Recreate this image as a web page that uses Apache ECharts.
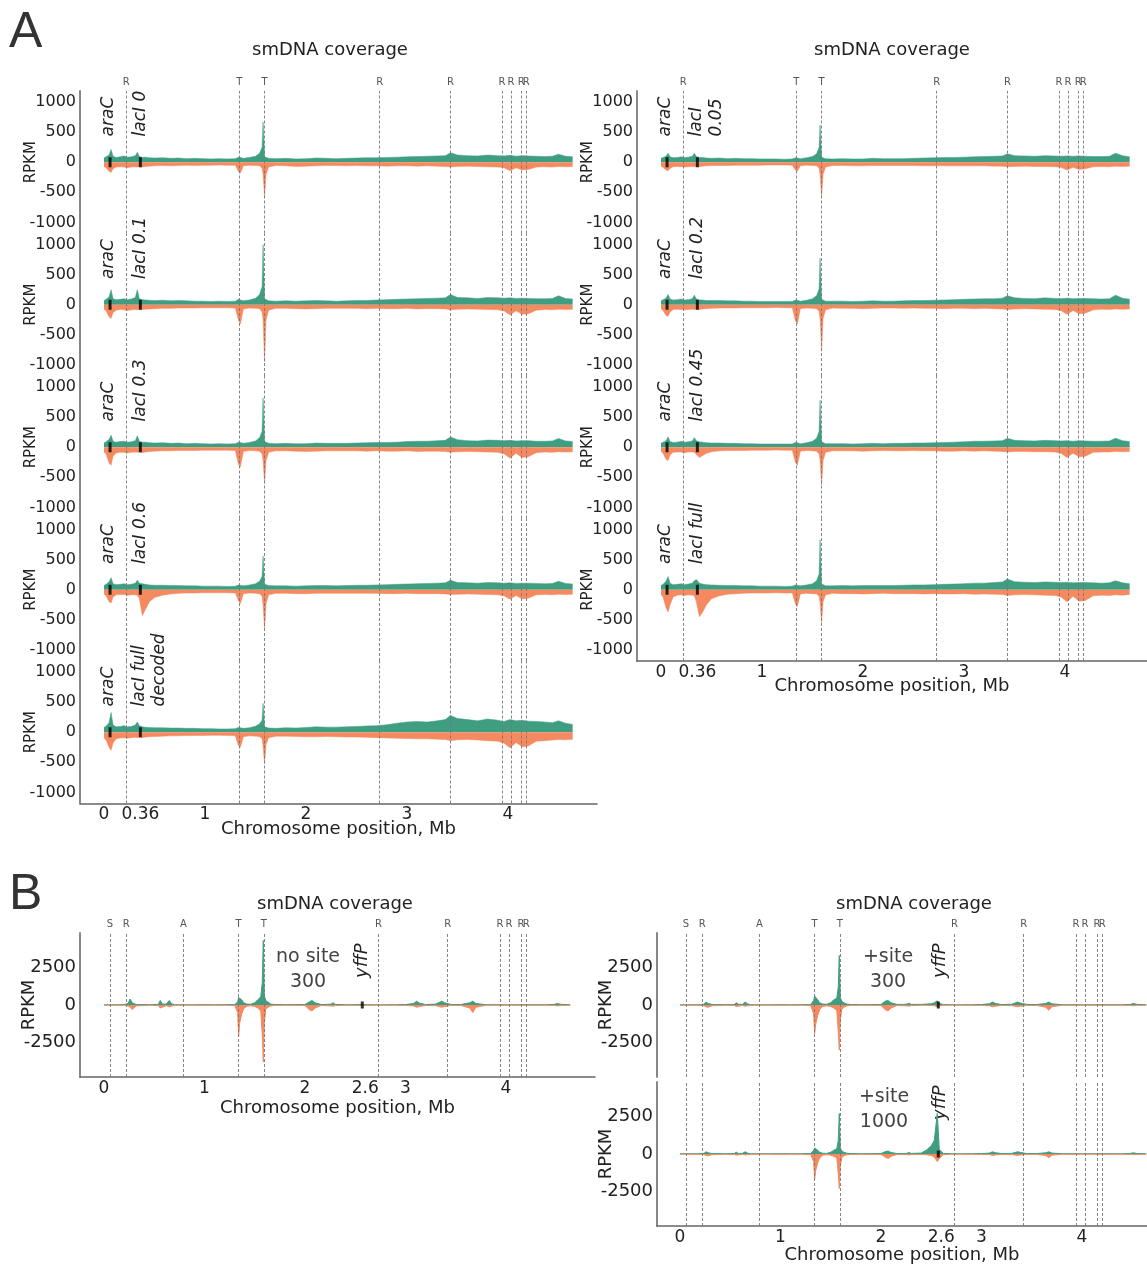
<!DOCTYPE html>
<html><head><meta charset="utf-8">
<script src="https://cdn.jsdelivr.net/npm/echarts@6/dist/echarts.min.js"></script>
<style>html,body{margin:0;padding:0;background:#fff}#c{width:1147px;height:1266px}</style>
</head><body><div id="c"></div><script>
// ---------------- DATA ----------------
// Chromosome positions (Mb) sampled for panel A
const posA = [0,0.02,0.05,0.07,0.09,0.12,0.16,0.2,0.23,0.27,
  0.31,0.33,0.35,0.38,0.41,0.45,0.5,0.58,0.66,0.74,
  0.82,0.9,0.98,1.06,1.14,1.22,1.3,1.33,1.35,1.38,
  1.44,1.5,1.54,1.565,1.575,1.59,1.605,1.63,1.7,1.8,
  1.9,2.0,2.1,2.2,2.3,2.4,2.5,2.6,2.7,2.8,
  2.9,3.0,3.1,3.2,3.3,3.38,3.43,3.5,3.6,3.7,
  3.8,3.9,3.96,4.02,4.08,4.14,4.2,4.28,4.36,4.44,4.5,4.57,4.64];

// lacI 0
const gA_lac0 = [70,90,120,210,100,80,90,105,85,90, 110,165,95,80,85,75,70,75,65,70, 60,65,60,55,60,55,60,85,80,65, 80,100,150,250,670,90,75,65,60,65, 55,60,70,65,60,65,70,75,75,80, 85,90,95,100,105,110,160,120,110,105, 120,110,105,115,100,110,105,100,95,100,135,100,90];
const oA_lac0 = [-70,-90,-150,-170,-110,-80,-75,-80,-90,-80, -75,-80,-75,-80,-70,-65,-60,-55,-60,-55, -50,-55,-50,-50,-45,-50,-50,-150,-180,-60, -50,-55,-60,-100,-200,-580,-200,-80,-55,-60, -70,-65,-60,-55,-55,-60,-55,-60,-60,-65, -60,-60,-65,-60,-65,-70,-80,-70,-65,-70, -75,-80,-90,-140,-90,-130,-120,-80,-75,-80,-70,-75,-70];
// lacI 0.1
const gA_lac01 = [70,90,130,250,100,85,90,100,85,95, 120,250,100,85,80,75,70,75,65,70, 65,60,60,55,60,55,60,90,80,65, 80,110,170,300,1000,100,75,65,60,65, 60,65,70,65,60,65,70,70,80,85, 90,95,100,105,110,115,170,120,115,105, 120,115,110,115,105,110,105,100,100,105,150,105,95];
const oA_lac01 = [-75,-100,-200,-230,-130,-90,-80,-85,-95,-85, -80,-85,-80,-80,-75,-70,-65,-60,-60,-55, -55,-55,-50,-50,-50,-50,-55,-250,-320,-70, -55,-60,-65,-120,-250,-950,-250,-90,-60,-60, -65,-70,-65,-60,-60,-60,-60,-65,-60,-65, -65,-60,-70,-65,-65,-70,-85,-75,-70,-75, -80,-85,-100,-170,-100,-160,-150,-90,-80,-85,-75,-80,-75];
// lacI 0.3
const gA_lac03 = [70,90,130,200,100,85,95,100,85,90, 110,190,100,85,85,75,70,75,65,70, 60,65,60,55,60,55,60,85,80,65, 80,105,160,260,820,95,75,65,60,65, 60,60,70,65,65,65,70,75,80,80, 85,95,100,100,110,115,170,125,110,105, 120,115,110,115,105,110,110,100,100,105,145,105,95];
const oA_lac03 = [-80,-110,-260,-300,-150,-95,-85,-85,-95,-85, -80,-85,-80,-90,-80,-70,-65,-60,-60,-55, -55,-55,-50,-50,-50,-50,-55,-280,-330,-70, -55,-60,-65,-110,-220,-600,-220,-85,-60,-60, -65,-70,-65,-60,-60,-60,-60,-65,-60,-65, -65,-60,-70,-65,-65,-70,-85,-75,-70,-75, -80,-85,-110,-180,-100,-170,-160,-90,-80,-85,-75,-80,-75];
// lacI 0.6
const gA_lac06 = [70,90,130,200,100,85,90,100,85,90, 110,160,110,100,90,80,75,75,70,70, 65,65,60,60,60,55,60,80,75,65, 80,100,140,220,560,90,75,70,65,65, 60,65,70,70,65,70,75,75,80,85, 90,95,100,105,110,115,160,120,115,110, 120,115,110,115,105,110,110,105,100,105,140,105,95];
const oA_lac06 = [-70,-100,-200,-220,-120,-85,-80,-80,-90,-85, -85,-90,-150,-430,-330,-200,-130,-90,-70,-60, -55,-55,-50,-50,-50,-50,-55,-180,-230,-65, -55,-60,-65,-110,-250,-670,-230,-85,-60,-60, -65,-65,-60,-60,-60,-60,-60,-60,-60,-65, -65,-60,-65,-65,-65,-70,-80,-75,-70,-75, -80,-85,-100,-160,-95,-150,-140,-85,-80,-85,-75,-80,-75];
// lacI full decoded
const gA_fullDec = [80,100,160,330,120,90,95,110,90,95, 120,170,110,90,85,80,75,75,70,70, 65,65,60,60,55,55,60,80,75,65, 75,100,140,200,480,90,75,70,65,75, 70,80,90,85,85,90,95,105,110,125, 150,170,180,170,190,210,280,230,210,190, 220,200,180,210,190,200,185,180,170,160,190,150,130];
const oA_fullDec = [-90,-130,-250,-300,-180,-110,-95,-90,-100,-90, -85,-90,-85,-90,-80,-75,-70,-65,-60,-60, -55,-55,-55,-50,-50,-55,-60,-220,-250,-75, -60,-65,-70,-110,-230,-520,-200,-90,-65,-65, -70,-75,-75,-70,-75,-80,-80,-85,-90,-95, -100,-105,-110,-110,-115,-120,-140,-125,-120,-130, -140,-150,-180,-260,-170,-240,-230,-150,-140,-130,-120,-125,-115];
// lacI 0.05
const gA_lac005 = [65,80,100,150,90,75,80,90,80,85, 100,150,95,80,80,70,65,70,60,65, 60,60,55,55,55,50,55,75,70,60, 75,95,140,240,620,85,70,60,55,60, 55,55,65,60,60,60,65,70,75,80, 80,85,90,95,100,105,140,110,105,100, 110,105,100,105,100,105,100,95,95,100,150,110,90];
const oA_lac005 = [-65,-85,-130,-140,-100,-75,-70,-75,-80,-75, -70,-75,-70,-75,-65,-60,-55,-55,-55,-50, -50,-50,-50,-45,-45,-45,-50,-130,-150,-60, -50,-55,-60,-100,-200,-580,-200,-80,-55,-55, -60,-60,-55,-55,-55,-55,-55,-60,-60,-60, -60,-60,-60,-60,-65,-65,-75,-70,-65,-70, -70,-75,-85,-130,-85,-120,-110,-75,-70,-75,-65,-70,-65];
// lacI 0.2
const gA_lac02 = [65,85,110,170,95,80,85,95,80,85, 100,160,95,80,80,70,70,70,65,65, 60,60,55,55,55,55,55,80,75,60, 75,100,150,260,770,90,70,60,60,60, 55,60,65,60,60,65,70,70,75,80, 85,90,95,100,100,110,150,115,105,100, 115,105,100,110,100,105,105,100,95,100,160,110,90];
const oA_lac02 = [-70,-95,-180,-190,-120,-80,-75,-80,-85,-80, -75,-80,-75,-80,-70,-65,-60,-55,-55,-55, -50,-50,-50,-50,-45,-50,-50,-260,-320,-65, -55,-60,-65,-110,-230,-770,-230,-85,-55,-60, -60,-65,-60,-55,-55,-60,-55,-60,-60,-65, -60,-60,-65,-60,-65,-70,-80,-70,-65,-70, -75,-80,-95,-160,-95,-150,-140,-85,-75,-80,-70,-75,-70];
// lacI 0.45
const gA_lac045 = [65,85,110,170,95,80,85,100,85,90, 105,160,110,90,85,75,70,70,65,65, 60,60,55,55,55,55,55,80,75,60, 75,100,150,260,780,90,70,60,60,60, 55,60,65,60,65,65,70,70,75,80, 85,90,100,100,105,110,150,115,110,105, 115,110,105,110,100,110,105,100,100,105,150,110,95];
const oA_lac045 = [-70,-100,-200,-220,-130,-85,-80,-80,-90,-80, -80,-85,-120,-170,-140,-100,-75,-60,-55,-55, -55,-50,-50,-50,-45,-50,-50,-250,-300,-65, -55,-60,-65,-110,-220,-630,-220,-85,-60,-60, -60,-65,-60,-55,-60,-60,-55,-60,-60,-65, -65,-60,-65,-60,-65,-70,-80,-70,-70,-75, -75,-80,-100,-170,-100,-160,-150,-85,-80,-80,-70,-75,-70];
// lacI full
const gA_full = [70,90,140,220,110,85,90,100,85,95, 110,150,170,110,95,85,80,75,70,70, 65,65,60,60,60,55,60,80,75,65, 80,100,150,260,830,95,75,65,65,70, 65,70,70,70,70,75,80,80,85,90, 95,100,110,110,120,130,180,135,125,120, 130,125,120,125,115,120,120,115,110,115,150,115,100];
const oA_full = [-80,-120,-300,-370,-250,-120,-90,-85,-95,-85, -90,-100,-200,-450,-380,-250,-150,-100,-75,-65, -60,-55,-55,-55,-50,-55,-55,-230,-280,-70, -60,-65,-70,-110,-220,-550,-200,-85,-60,-65, -65,-70,-65,-60,-65,-65,-65,-70,-65,-70, -70,-65,-75,-70,-75,-80,-95,-85,-80,-85, -90,-95,-120,-200,-110,-190,-180,-100,-90,-95,-85,-90,-80];

// Chromosome positions (Mb) sampled for panel B
const posB = [0,0.1,0.2,0.24,0.26,0.28,0.32,0.45,0.54,0.56,
  0.58,0.62,0.65,0.67,0.7,0.8,0.9,1.0,1.1,1.2,
  1.3,1.33,1.34,1.35,1.37,1.39,1.42,1.46,1.5,1.53,
  1.56,1.575,1.585,1.595,1.61,1.63,1.66,1.7,1.8,1.9,
  2.0,2.04,2.07,2.1,2.16,2.22,2.26,2.28,2.3,2.4,
  2.45,2.5,2.53,2.56,2.58,2.62,2.7,2.8,2.9,3.0,
  3.08,3.11,3.14,3.2,3.3,3.36,3.39,3.45,3.55,3.64,
  3.67,3.7,3.8,3.9,4.0,4.1,4.2,4.3,4.4,4.48,
  4.51,4.55,4.64];
// no site 300
const gB_noSite = [15,15,20,100,400,150,30,20,40,300, 60,60,300,100,20,15,15,20,15,20, 30,200,500,450,350,150,60,50,150,350, 550,1500,4300,600,300,200,60,30,20,25, 30,200,300,150,30,40,60,150,40,20, 20,25,30,30,25,20,15,15,20,30, 100,250,120,30,60,250,150,40,30,150, 250,100,20,20,15,15,20,20,15,40, 100,40,20];
const oB_noSite = [-15,-15,-20,-60,-150,-300,-60,-20,-40,-200, -150,-40,-120,-80,-20,-15,-15,-20,-15,-20, -30,-500,-2100,-1200,-600,-250,-80,-50,-100,-200, -400,-2000,-3800,-1200,-300,-150,-60,-30,-20,-25, -30,-300,-400,-200,-30,-50,-60,-80,-40,-20, -20,-25,-30,-30,-25,-20,-15,-15,-20,-30, -60,-150,-100,-30,-40,-150,-100,-30,-30,-200, -500,-150,-20,-20,-15,-15,-20,-20,-15,-30, -60,-30,-20];
// +site 300
const gB_site300 = [15,15,20,60,200,100,30,20,30,150, 50,40,200,80,20,15,15,20,15,20, 30,300,600,500,350,150,60,50,150,350, 450,1200,3300,500,250,150,60,30,20,25, 30,250,300,150,40,40,60,120,40,40, 60,80,150,280,100,30,15,15,20,30, 80,200,100,30,50,200,120,40,30,100, 200,80,20,20,15,15,20,20,15,40, 100,40,20];
const oB_site300 = [-15,-15,-20,-50,-120,-150,-50,-20,-30,-100, -80,-30,-80,-50,-20,-15,-15,-20,-15,-20, -30,-600,-1900,-1300,-700,-300,-100,-50,-100,-200, -350,-1800,-3000,-1000,-300,-150,-60,-30,-20,-25, -30,-300,-400,-200,-30,-50,-60,-80,-40,-20, -20,-30,-50,-100,-60,-20,-15,-15,-20,-30, -50,-120,-80,-30,-40,-120,-80,-30,-30,-150, -350,-120,-20,-20,-15,-15,-20,-20,-15,-30, -50,-30,-20];
// +site 1000
const gB_site1000 = [15,15,20,50,150,80,30,20,30,120, 40,40,150,60,20,15,15,20,15,20, 30,250,400,350,250,120,50,40,120,250, 350,900,2700,400,200,120,50,30,20,25, 30,150,200,100,30,30,50,100,40,60, 250,550,900,2700,300,40,15,15,20,30, 60,150,80,30,40,150,100,30,30,80, 150,60,20,20,15,15,20,20,15,40, 80,30,20];
const oB_site1000 = [-15,-15,-20,-40,-100,-120,-40,-20,-30,-80, -60,-30,-60,-40,-20,-15,-15,-20,-15,-20, -30,-500,-1700,-1100,-600,-250,-80,-40,-80,-150, -250,-1300,-2300,-800,-250,-120,-50,-30,-20,-25, -30,-200,-300,-150,-30,-40,-50,-60,-30,-30, -50,-100,-200,-500,-300,-50,-15,-15,-20,-30, -40,-100,-60,-30,-30,-100,-60,-30,-30,-100, -250,-80,-20,-20,-15,-15,-20,-20,-15,-30, -40,-30,-20];

// Gene markers (Mb)
const markersA = [0.06, 0.36];   // araC, lacI
const markersB = [2.57];         // yffP
// Reference lines (Mb) and their letters
const linePosA = [0.224, 1.34, 1.59, 2.73, 3.43, 3.94, 4.03, 4.13, 4.18];
const lineLabA = ['R','T','T','R','R','R','R','R','R'];
const linePosB = [0.06, 0.22, 0.79, 1.34, 1.59, 2.73, 3.42, 3.94, 4.03, 4.15, 4.2];
const lineLabB = ['S','R','A','T','T','R','R','R','R','R','R'];
// Tick labels
const xTicksA = [0, 0.36, 1, 2, 3, 4];
const xTicksB = [0, 1, 2, 2.6, 3, 4];
const yTicksA = [-1000, -500, 0, 500, 1000];
const yTicksB = [-2500, 0, 2500];
// Panel texts
const panelLabelsA = ['lacI 0','lacI 0.1','lacI 0.3','lacI 0.6','lacI full\ndecoded','lacI\n0.05','lacI 0.2','lacI 0.45','lacI full'];
const panelLabelsB = ['no site\n300','+site\n300','+site\n1000'];

// ---------------- LAYOUT ----------------
const GREEN = '#3f9e81', ORANGE = '#f5895f';
const FONT = '"DejaVu Sans", Verdana, sans-serif';
const pxA = 101, pxB = 100.5;
const hA = 142.5, topA = 91;
const panels = [];
const seriesA = [[gA_lac0,oA_lac0],[gA_lac01,oA_lac01],[gA_lac03,oA_lac03],[gA_lac06,oA_lac06],[gA_fullDec,oA_fullDec],
                 [gA_lac005,oA_lac005],[gA_lac02,oA_lac02],[gA_lac045,oA_lac045],[gA_full,oA_full]];
for (let k = 0; k < 5; k++) panels.push({kind:'A', left:80, width:517, top:topA+k*hA, height:hA, zeroPx:24, first:k===0, last:k===4, nameGap:17});
for (let k = 0; k < 4; k++) panels.push({kind:'A', left:637, width:510, top:topA+k*hA, height:hA, zeroPx:24, first:k===0, last:k===3, nameGap:16});
panels.push({kind:'B', left:80, width:515, top:933, height:144, zeroPx:24, first:true, last:true, nameGap:22});
panels.push({kind:'B', left:657, width:490, top:933, height:144, zeroPx:23, first:true, last:false, nameGap:20});
panels.push({kind:'B', left:657, width:490, top:1082, height:144, zeroPx:23, first:false, last:true, nameGap:20});
const seriesB = [[gB_noSite,oB_noSite],[gB_site300,oB_site300],[gB_site1000,oB_site1000]];

const zip = (p, v) => p.map((x, i) => [x, v[i]]);
const fmt = v => String(v);
const grid = [], xAxis = [], yAxis = [], series = [];
panels.forEach((p, i) => {
  const isA = p.kind === 'A';
  const px = isA ? pxA : pxB;
  const xmin = -p.zeroPx / px, xmax = xmin + p.width / px;
  const yr = isA ? 1185 : 4800;
  const fs = isA ? 16 : 18;
  grid.push({left:p.left, top:p.top, width:p.width, height:p.height});
  xAxis.push({type:'value', gridIndex:i, min:xmin, max:xmax,
    axisLine:{show:p.last, onZero:false, lineStyle:{color:'#666', width:1.5}},
    axisTick:{show:false}, splitLine:{show:false},
    axisLabel:{show:p.last, customValues:isA ? xTicksA : xTicksB, formatter:fmt, fontSize:17, color:'#222', fontFamily:FONT, margin:3},
    name:p.last ? 'Chromosome position, Mb' : '', nameLocation:'middle', nameGap:p.nameGap, nameMoveOverlap:false,
    nameTextStyle:{fontSize:18, color:'#222', fontFamily:FONT}});
  yAxis.push({type:'value', gridIndex:i, min:-yr, max:yr,
    axisLine:{show:true, onZero:false, lineStyle:{color:'#888', width:2}},
    axisTick:{show:false}, splitLine:{show:false},
    axisLabel:{customValues:isA ? yTicksA : yTicksB, formatter:fmt, fontSize:fs, color:'#222', fontFamily:FONT, margin:4},
    name:'RPKM', nameLocation:'middle', nameGap:isA ? 41 : 42, nameMoveOverlap:false,
    nameTextStyle:{fontSize:isA ? 15 : 18, color:'#222', fontFamily:FONT}});
  const d = isA ? seriesA[i] : seriesB[i - 9];
  const pos = isA ? posA : posB;
  const lp = isA ? linePosA : linePosB, ll = isA ? lineLabA : lineLabB;
  const lw = isA ? 0.5 : 1;
  series.push({type:'line', xAxisIndex:i, yAxisIndex:i, data:zip(pos, d[0]), symbol:'none', showSymbol:false,
    lineStyle:{width:lw, color:GREEN}, areaStyle:{color:GREEN, opacity:1}, z:2, silent:true, animation:false});
  series.push({type:'line', xAxisIndex:i, yAxisIndex:i, data:zip(pos, d[1]), symbol:'none', showSymbol:false,
    lineStyle:{width:lw, color:ORANGE}, areaStyle:{color:ORANGE, opacity:1}, z:2, silent:true, animation:false,
    markLine:{silent:true, symbol:['none','none'], animation:false,
      lineStyle:{color:'#777', width:0.9, type:[3,2]},
      label:{show:p.first, position:'end', fontSize:10, color:'#555', fontFamily:FONT, distance:4},
      data:lp.map((x, j) => ({xAxis:x, label:{formatter:ll[j]}}))}});
  series.push({type:'scatter', xAxisIndex:i, yAxisIndex:i, data:(isA ? markersA : markersB).map(x => [x, 0]),
    symbol:'rect', symbolSize:isA ? [3, 10] : [3, 7], itemStyle:{color:'#000'}, z:6, silent:true, animation:false});
});

const chart = echarts.init(document.getElementById('c'), null, {renderer:'canvas'});
chart.setOption({animation:false, backgroundColor:'#fff', grid, xAxis, yAxis, series});

// ---------------- TEXT ANNOTATIONS ----------------
const g = [];
const txt = (x, y, text, font, opts) => g.push(Object.assign({type:'text', x, y, silent:true,
  style:Object.assign({text, font, fill:'#222', align:'center', verticalAlign:'middle'}, (opts && opts.style) || {})},
  opts && opts.rotation ? {rotation:opts.rotation} : {}));
txt(9, 33, 'A', 'normal 50px "Liberation Sans", Arial, sans-serif', {style:{align:'left', fill:'#333'}});
txt(9, 895, 'B', 'normal 50px "Liberation Sans", Arial, sans-serif', {style:{align:'left', fill:'#333'}});
txt(330, 50, 'smDNA coverage', '18px ' + FONT);
txt(892, 50, 'smDNA coverage', '18px ' + FONT);
txt(335, 904, 'smDNA coverage', '18px ' + FONT);
txt(914, 904, 'smDNA coverage', '18px ' + FONT);
const R90 = Math.PI / 2;
panels.forEach((p, i) => {
  const P = (x, y) => chart.convertToPixel({xAxisIndex:i, yAxisIndex:i}, [x, y]);
  if (p.kind === 'A') {
    const a = P(0.05, 430);
    txt(a[0], a[1], 'araC', 'italic 17px ' + FONT, {rotation:R90, style:{align:'left'}});
    const lab = panelLabelsA[i];
    const b = P(0.36, 430);
    const off = lab.indexOf('\n') >= 0 ? 9 : 0;
    txt(b[0] + off, b[1], lab, 'italic 17px ' + FONT, {rotation:R90, style:{align:'left', lineHeight:20}});
  } else {
    const j = i - 9;
    const c = [P(2.03, 2330), P(2.07, 2330), P(2.03, 2930)][j];
    txt(c[0], c[1], panelLabelsB[j], '19px ' + FONT, {style:{fill:'#444', lineHeight:25}});
    const y = [P(2.57, 1800), P(2.59, 1800), P(2.59, 2270)][j];
    txt(y[0], y[1], 'yffP', 'italic 18px ' + FONT, {rotation:R90, style:{align:'left'}});
  }
});
chart.setOption({graphic:g});
</script></body></html>
